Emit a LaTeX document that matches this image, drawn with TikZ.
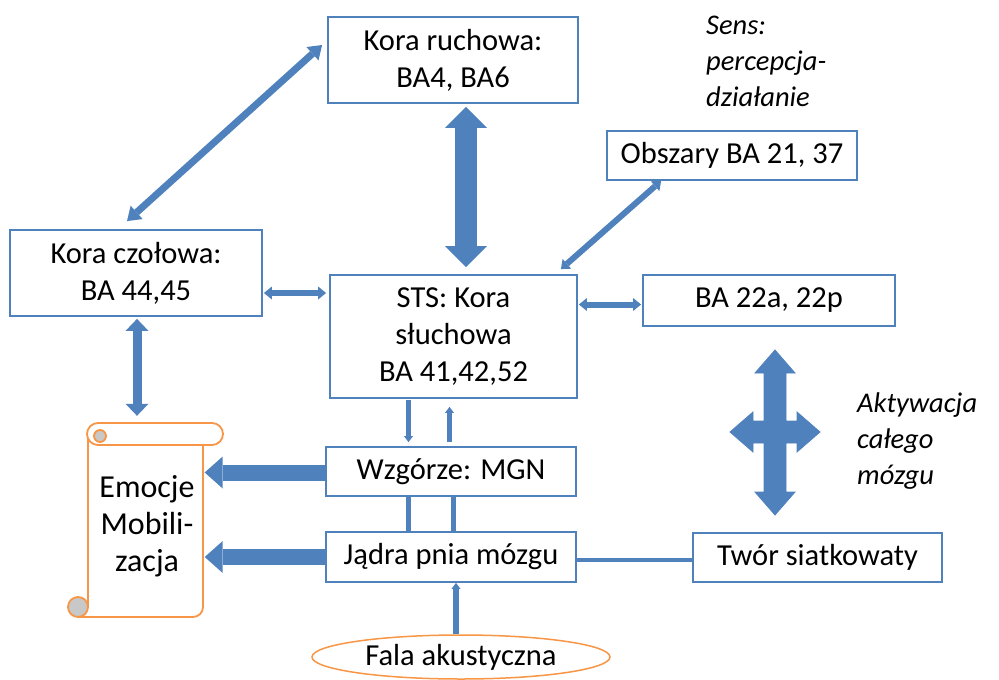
\documentclass[tikz,border=0pt]{standalone}
\usepackage{fontspec}
\setmainfont{Carlito}
\usetikzlibrary{arrows.meta,shapes.geometric,calc}
\definecolor{ablue}{RGB}{79,129,189}
\definecolor{bblue}{RGB}{79,129,189}
\definecolor{sorange}{RGB}{247,150,70}
\definecolor{curlgray}{RGB}{200,200,200}
\begin{document}
\begin{tikzpicture}[x=1pt,y=-1pt,
  every node/.style={font=\fontsize{30.5}{37}\selectfont, inner sep=0pt, align=center},
  bx/.style={draw=bblue, line width=1.8pt, fill=white},
  lbl/.style={font=\fontsize{28.5}{36}\selectfont\itshape, align=left, anchor=west},
  thinarr/.style={draw=ablue, line width=6pt, arrows={Triangle[width=13pt,length=8pt,line width=0pt]-Triangle[width=13pt,length=8pt,line width=0pt]}},
  diagarr/.style={draw=ablue, line width=7pt, arrows={Triangle[width=18pt,length=13pt,line width=0pt]-Triangle[width=18pt,length=13pt,line width=0pt]}},
  midarr/.style={draw=ablue, line width=9pt, arrows={Triangle[width=23pt,length=12pt,line width=0pt]-Triangle[width=23pt,length=12pt,line width=0pt]}},
  bigarr/.style={draw=ablue, line width=22pt, arrows={Triangle[width=42pt,length=21pt,line width=0pt]-Triangle[width=42pt,length=21pt,line width=0pt]}},
  leftarr/.style={draw=ablue, line width=16pt, arrows={-Triangle[width=32pt,length=18pt,line width=0pt]}},
  uparr/.style={draw=ablue, line width=5pt, arrows={-Triangle[width=9pt,length=6pt,line width=0pt]}},
  plain/.style={draw=ablue, line width=5pt},
  scrl/.style={draw=sorange, line width=1.8pt}
]
\useasboundingbox (0,0) rectangle (999,680);

% boxes
\node[bx, minimum width=250pt, minimum height=86pt] (kr) at (453,60) {Kora ruchowa:\\BA4, BA6};
\node[bx, minimum width=250pt, minimum height=49pt] (obs) at (732,155.5) {Obszary BA 21, 37};
\node[bx, minimum width=252pt, minimum height=86pt] (kc) at (136,273) {Kora czołowa:\\BA 44,45};
\node[bx, minimum width=247pt, minimum height=123pt] (sts) at (453.5,336.5) {STS: Kora\\słuchowa\\BA 41,42,52};
\node[bx, minimum width=252pt, minimum height=51pt] (ba22) at (769,300.5) {BA 22a, 22p};
\node[bx, minimum width=250pt, minimum height=49pt] (wz) at (451,471.5) {Wzgórze: MGN};
\node[bx, minimum width=250pt, minimum height=50pt] (jp) at (451,557) {Jądra pnia mózgu};
\node[bx, minimum width=249pt, minimum height=49pt] (tw) at (817.5,557.5) {Twór siatkowaty};
\node[ellipse, draw=sorange, line width=1.5pt, fill=white, minimum width=298pt, minimum height=44pt] (fala) at (461,657) {Fala akustyczna};

% scroll
\fill[white] (88,434) rectangle (203,617);
\draw[scrl] (88,434) -- (88,607);
\draw[scrl, rounded corners=10] (78,617) -- (203,617) -- (203,445);
\filldraw[scrl, fill=curlgray] (78,607) circle[radius=10];
\filldraw[scrl, fill=white, rounded corners=11] (87,423) rectangle (223,445);
\filldraw[scrl, fill=curlgray] (100,436) circle[radius=6];
\node[minimum width=115pt, minimum height=194pt] (emo) at (146,520) {};
\node[font=\fontsize{32}{37}\selectfont] (emotxt) at (147,526) {Emocje\\Mobili-\\zacja};

% labels
\node[lbl] (sens) at (706,61) {Sens:\\percepcja-\\działanie};
\node[lbl] (akt) at (857,441) {Aktywacja\\całego\\mózgu};

% connectors
\draw[diagarr] ([xshift=-9pt,yshift=8pt]kc.north) -- ([xshift=-5pt,yshift=15pt]kr.west);
\coordinate (v4) at ($(kr.south)+(13,0)$);
\draw[bigarr, shorten <=3pt, shorten >=7pt] (v4) -- (v4 |- sts.north);
\draw[thinarr] ([xshift=-17pt,yshift=5pt]sts.north east) -- ([xshift=55pt]obs.south west);
\coordinate (h1) at ($(kc.east)+(0,20)$);
\draw[thinarr, shorten <=1pt, shorten >=3pt] (h1) -- (h1 -| sts.west);
\coordinate (h2) at ($(ba22.west)+(0,4)$);
\draw[thinarr, shorten <=1pt, shorten >=1pt] (h2 -| sts.east) -- (h2);
\draw[midarr, shorten <=2pt, shorten >=7pt] ([xshift=1pt]kc.south) -- ([xshift=1pt]kc.south |- emo.north);
\coordinate (v1) at ($(sts.south)+(-45,0)$);
\draw[uparr, shorten <=1pt, shorten >=4pt] (v1) -- (v1 |- wz.north);
\coordinate (v2) at ($(sts.south)+(-4,0)$);
\draw[uparr, shorten <=4pt, shorten >=8pt] (v2 |- wz.north) -- (v2);
\draw[plain] (v1 |- wz.south) -- (v1 |- jp.north);
\coordinate (v5) at ($(wz.south)+(2,0)$);
\draw[plain] (v5) -- (v5 |- jp.north);
\coordinate (v3) at ($(fala.north)+(-5,0)$);
\draw[uparr, line width=6pt] (v3) -- (v3 |- jp.south);
\coordinate (h3) at ($(tw.west)+(0,2)$);
\draw[draw=ablue, line width=4pt] (h3 -| jp.east) -- (h3);
\draw[leftarr, shorten >=1pt] ([yshift=-1pt]wz.west) -- ([yshift=-1pt]wz.west -| emo.east);
\draw[leftarr, shorten >=1pt] (jp.west) -- (jp.west -| emo.east);

% cross arrow
\filldraw[fill=ablue, draw=ablue, line width=0.8pt] (775,350) -- (795,373) -- (786,373) -- (786,421) -- (797,421) -- (797,412) -- (820,432) -- (797,452) -- (797,443) -- (786,443) -- (786,492) -- (795,492) -- (775,515) -- (755,492) -- (764,492) -- (764,443) -- (753,443) -- (753,452) -- (730,432) -- (753,412) -- (753,421) -- (764,421) -- (764,373) -- (755,373) -- cycle;
\end{tikzpicture}
\end{document}
